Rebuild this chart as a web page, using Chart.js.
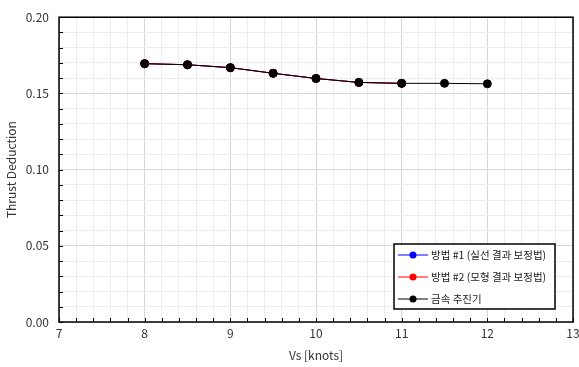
<!DOCTYPE html>
<html>
<head>
<meta charset="utf-8">
<script src="https://cdn.jsdelivr.net/npm/chart.js@4"></script>
<style>
  html, body { margin: 0; padding: 0; background: #fff; }
  #wrap { width: 579px; height: 367px; }
</style>
</head>
<body>
<div id="wrap"><canvas id="chart" width="579" height="367"></canvas></div>
<script>
const speeds = [8, 8.5, 9, 9.5, 10, 10.5, 11, 11.5, 12];
const method1 = [0.1695, 0.1688, 0.1669, 0.1632, 0.1598, 0.1572, 0.1566];
const method2 = [0.1695, 0.1688, 0.1669, 0.1632, 0.1598, 0.1572, 0.1566];
const metalProp = [0.1695, 0.1688, 0.1669, 0.1632, 0.1598, 0.1572, 0.1566, 0.1566, 0.1563];
const seriesLabels = ["방법 #1 (실선 결과 보정법)", "방법 #2 (모형 결과 보정법)", "금속 추진기"];
const seriesColors = ["#0000ff", "#ff0000", "#000000"];

const FONT = "'Noto Sans CJK KR', 'Noto Sans', sans-serif";

function toPoints(vals) {
  return vals.map((v, i) => ({ x: speeds[i], y: v }));
}

const isMajorX = v => Math.abs(v - Math.round(v)) < 1e-6;
const isMajorY = v => Math.abs(v * 20 - Math.round(v * 20)) < 1e-6;

// cadre, petites graduations internes et légende
const framePlugin = {
  id: 'frame',
  afterDraw(chart) {
    const { ctx, chartArea: a, scales } = chart;
    ctx.save();
    // graduations intérieures
    ctx.strokeStyle = '#000';
    ctx.lineWidth = 1;
    ctx.beginPath();
    scales.x.ticks.forEach(t => {
      const px = Math.round(scales.x.getPixelForValue(t.value)) + 0.5;
      ctx.moveTo(px, a.bottom);
      ctx.lineTo(px, a.bottom - 4);
    });
    scales.y.ticks.forEach(t => {
      const py = Math.round(scales.y.getPixelForValue(t.value)) + 0.5;
      ctx.moveTo(a.left, py);
      ctx.lineTo(a.left + 4, py);
    });
    ctx.stroke();
    // cadre
    ctx.lineWidth = 1.5;
    ctx.strokeRect(a.left, a.top, a.right - a.left, a.bottom - a.top);

    // légende
    const bx = a.right - 179, by = a.bottom - 78, bw = 161, bh = 65;
    ctx.fillStyle = '#fff';
    ctx.fillRect(bx, by, bw, bh);
    ctx.lineWidth = 1.5;
    ctx.strokeStyle = '#000';
    ctx.strokeRect(bx, by, bw, bh);
    ctx.font = '10.5px ' + FONT;
    ctx.textBaseline = 'middle';
    seriesLabels.forEach((lab, i) => {
      const y = by + 11 + i * 22;
      ctx.strokeStyle = seriesColors[i];
      ctx.lineWidth = 1;
      ctx.beginPath();
      ctx.moveTo(bx + 4, y);
      ctx.lineTo(bx + 34, y);
      ctx.stroke();
      ctx.fillStyle = seriesColors[i];
      ctx.beginPath();
      ctx.arc(bx + 19, y, 3.5, 0, Math.PI * 2);
      ctx.fill();
      ctx.fillStyle = '#222';
      ctx.fillText(lab, bx + 37, y);
    });
    ctx.restore();
  }
};

const datasets = [method1, method2, metalProp].map((vals, i) => ({
  label: seriesLabels[i],
  data: toPoints(vals),
  showLine: true,
  borderColor: seriesColors[i],
  backgroundColor: seriesColors[i],
  borderWidth: 1,
  pointRadius: 4,
  pointHoverRadius: 4,
  order: 3 - i
}));

new Chart(document.getElementById('chart').getContext('2d'), {
  type: 'scatter',
  data: { datasets: datasets },
  options: {
    responsive: false,
    animation: false,
    layout: { padding: { top: 12, right: 6, left: 0, bottom: 0 } },
    plugins: {
      legend: { display: false },
      tooltip: { enabled: false }
    },
    scales: {
      x: {
        type: 'linear',
        min: 7,
        max: 13,
        ticks: {
          stepSize: 0.2,
          autoSkip: false,
          maxRotation: 0,
          color: '#333',
          font: { family: FONT, size: 12 },
          padding: 4,
          callback: v => isMajorX(v) ? String(Math.round(v)) : ''
        },
        grid: {
          drawTicks: false,
          color: ctx => isMajorX(ctx.tick.value) ? '#d6d6d6' : '#ededed',
          lineWidth: 1
        },
        border: { display: false },
        title: {
          display: true,
          text: 'Vs [knots]',
          color: '#333',
          font: { family: FONT, size: 12 },
          padding: { top: 4 }
        },
        afterFit: s => { s.height = 45; s.paddingRight = 0; }
      },
      y: {
        type: 'linear',
        min: 0,
        max: 0.2,
        ticks: {
          stepSize: 0.01,
          autoSkip: false,
          color: '#333',
          font: { family: FONT, size: 12 },
          padding: 10,
          callback: v => isMajorY(v) ? v.toFixed(2) : ''
        },
        grid: {
          drawTicks: false,
          color: ctx => isMajorY(ctx.tick.value) ? '#d6d6d6' : '#ededed',
          lineWidth: 1
        },
        border: { display: false },
        title: {
          display: true,
          text: 'Thrust Deduction',
          color: '#333',
          font: { family: FONT, size: 12 },
          padding: { bottom: 2 }
        },
        afterFit: s => { s.width = 59; }
      }
    }
  },
  plugins: [framePlugin]
});
</script>
</body>
</html>
